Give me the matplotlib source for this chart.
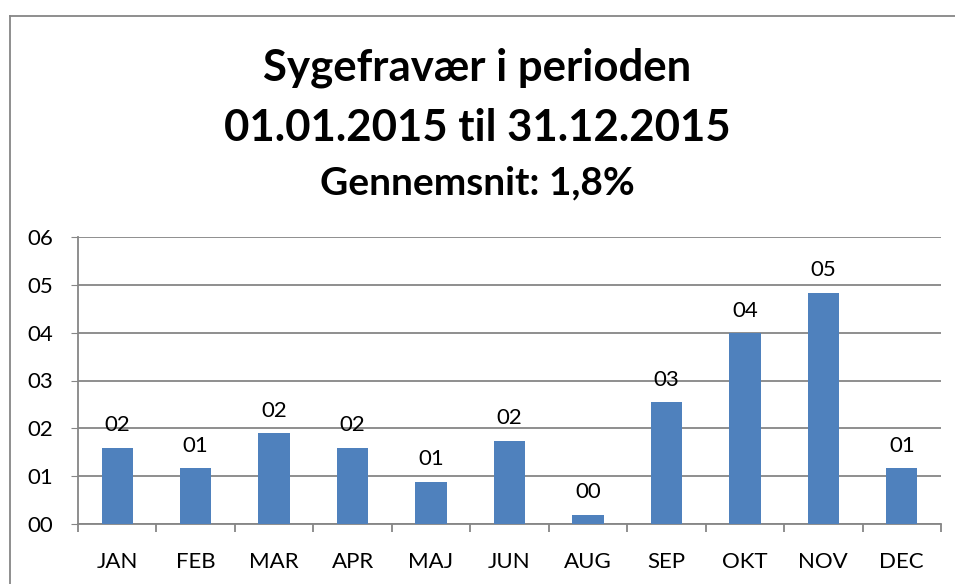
import matplotlib
matplotlib.use("Agg")
import matplotlib.pyplot as plt
import numpy as np

plt.rcParams['font.family'] = ['Lato', 'DejaVu Sans']

maaneder = ['JAN', 'FEB', 'MAR', 'APR', 'MAJ', 'JUN', 'AUG', 'SEP', 'OKT', 'NOV', 'DEC']
fravaer = [1.59, 1.17, 1.90, 1.59, 0.88, 1.74, 0.19, 2.55, 3.99, 4.83, 1.17]
y_ticks = [0, 1, 2, 3, 4, 5, 6]

fig = plt.figure(figsize=(9.55, 5.84), dpi=100)
ax = fig.add_axes([78 / 955, 1 - 524 / 584, (941 - 78) / 955, (524 - 237) / 584])

x = np.arange(len(maaneder))
ax.bar(x, fravaer, width=0.4, color='#4F81BD', zorder=3)

for xi, v in zip(x, fravaer):
    ax.annotate('%02d' % round(v), (xi, v), xytext=(0, 9), textcoords='offset points',
                ha='center', va='bottom', fontsize=16, color='black', zorder=4)

ax.set_xlim(-0.5, len(maaneder) - 0.5)
ax.set_ylim(0, 6)
ax.set_yticks(y_ticks)
ax.set_yticklabels(['%02d' % t for t in y_ticks], fontsize=16)
ax.yaxis.grid(True, color='#868686', linewidth=1.3, zorder=0)
ax.tick_params(axis='y', length=5, color='#868686', pad=13)

ax.set_xticks(x)
ax.set_xticklabels(maaneder, fontsize=16)
ax.tick_params(axis='x', which='major', length=0, pad=20)
ax.set_xticks(np.arange(-0.5, len(maaneder)), minor=True)
ax.tick_params(axis='x', which='minor', length=6, color='#868686', width=1.3)

for side in ['top', 'right']:
    ax.spines[side].set_visible(False)
for side in ['left', 'bottom']:
    ax.spines[side].set_color('#868686')
    ax.spines[side].set_linewidth(1.3)

fig.text(0.5, 1 - 68 / 584, 'Sygefravær i perioden', ha='center', va='center',
         fontsize=31.5, fontweight='bold')
fig.text(0.5, 1 - 128 / 584, '01.01.2015 til 31.12.2015', ha='center', va='center',
         fontsize=31.5, fontweight='bold')
fig.text(0.5, 1 - 183 / 584, 'Gennemsnit: 1,8%', ha='center', va='center',
         fontsize=28, fontweight='bold')

# ramme om diagrammet
fig.add_artist(plt.Line2D([10 / 955, 10 / 955], [0, 1 - 16 / 584], color='#868686', lw=1.3))
fig.add_artist(plt.Line2D([10 / 955, 1], [1 - 16 / 584, 1 - 16 / 584], color='#868686', lw=1.3))

fig.savefig('out.png', dpi=100)
